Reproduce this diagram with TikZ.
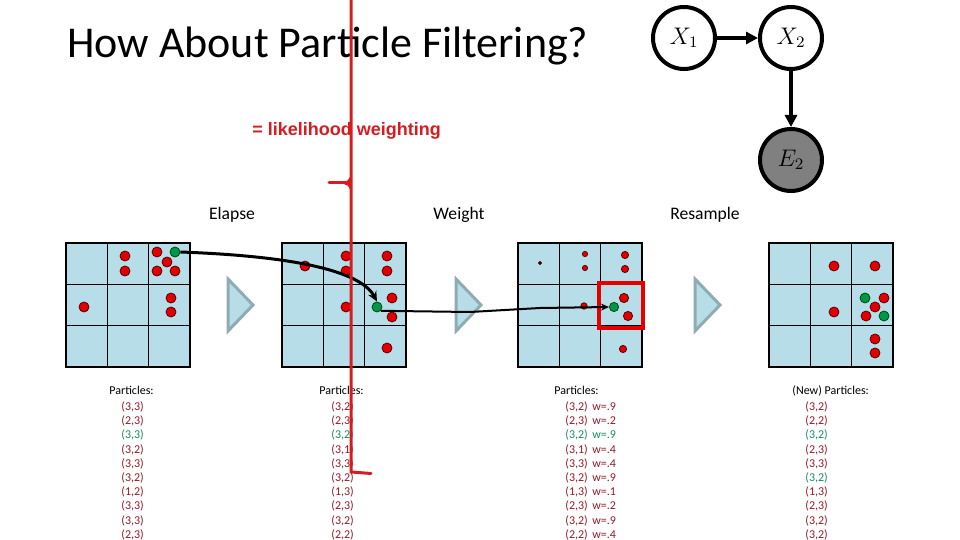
\documentclass[tikz,border=0pt]{standalone}
\usepackage{fontspec}
\setmainfont{Carlito}
\newfontfamily\arialfont{Liberation Sans}
\usetikzlibrary{arrows.meta}
\definecolor{cellblue}{RGB}{183,222,232}
\definecolor{pred}{RGB}{226,0,0}
\definecolor{pgreen}{RGB}{0,150,75}
\definecolor{dotedge}{RGB}{90,0,0}
\definecolor{txtred}{RGB}{150,25,40}
\definecolor{txtgreen}{RGB}{25,140,95}
\definecolor{markred}{RGB}{215,28,32}
\definecolor{trigray}{RGB}{143,172,178}
\definecolor{evgray}{RGB}{128,128,128}
\newcommand\pfgrid[2]{%
  \fill[cellblue] (#1,#2) rectangle ++(124,124);
  \draw[gridline] (#1,#2) rectangle ++(124,124);
  \draw[gridline] (#1+41.33,#2) -- ++(0,124);
  \draw[gridline] (#1+82.67,#2) -- ++(0,124);
  \draw[gridline] (#1,#2+41.33) -- ++(124,0);
  \draw[gridline] (#1,#2+82.67) -- ++(124,0);
}
\newcommand\pftri[1]{%
  \draw[playtri] (#1,279) -- (#1+25,305) -- (#1,331) -- cycle;
}
\begin{document}
\begin{tikzpicture}[x=0.5pt,y=-0.5pt,
  gridline/.style={black,line width=0.7pt},
  playtri/.style={draw=trigray,fill=cellblue,line width=1.5pt,line join=miter},
  rdot/.style={circle,draw=dotedge,line width=0.4pt,fill=pred,inner sep=0pt,minimum size=5pt},
  gdot/.style={circle,draw=black!70!green,line width=0.4pt,fill=pgreen,inner sep=0pt,minimum size=5pt},
  bnvar/.style={circle,draw=black,line width=2pt,minimum size=31pt,inner sep=0pt,font=\fontsize{11.5}{13}\selectfont},
  bnarrow/.style={line width=2pt,-{Triangle[length=6pt,width=6pt]}},
  steplabel/.style={inner sep=0pt,anchor=base,font=\fontsize{8.8}{10}\selectfont},
  listtext/.style={inner sep=0pt,anchor=base west,font=\fontsize{6}{7}\selectfont},
  redmark/.style={draw=markred,line width=1.5pt}
]
\useasboundingbox (0,0) rectangle (960,540);

% title
\node[inner sep=0pt,anchor=base west] (title) at (67,58) {\fontsize{22}{26}\selectfont How About Particle Filtering?};
\node[inner sep=0pt,anchor=base west,text=markred] (lw) at (252,136) {\arialfont\bfseries\fontsize{9}{11}\selectfont = likelihood weighting};

% Bayes net
\node[bnvar] (x1) at (684,38) {$X_1$};
\node[bnvar] (x2) at (791,38) {$X_2$};
\node[bnvar,fill=evgray] (e2) at (791,160) {$E_2$};
\draw[bnarrow] (x1) -- (x2);
\draw[bnarrow] (x2) -- (e2);

% step labels
\node[steplabel] (elapse) at (232,220) {Elapse};
\node[steplabel] (weight) at (459,220) {Weight};
\node[steplabel] (resample) at (705,220) {Resample};

% grids
\pfgrid{66}{243}
\pfgrid{282}{243}
\pfgrid{518}{243}
\pfgrid{769}{243}
\pftri{228}
\pftri{456}
\pftri{695}

% grid 1 particles
\node[rdot] (a1) at (125,256) {};
\node[rdot] (a2) at (125,271) {};
\node[rdot] (a3) at (157,252) {};
\node[rdot] (a4) at (167,262) {};
\node[rdot] (a5) at (157,271) {};
\node[rdot] (a6) at (175,271) {};
\node[gdot] (g1) at (175,252) {};
\node[rdot] (a7) at (171,298) {};
\node[rdot] (a8) at (171,312) {};
\node[rdot] (a9) at (84,307) {};

% grid 2 particles
\node[rdot] (b1) at (305,266) {};
\node[rdot] (b2) at (346,256) {};
\node[rdot] (b3) at (346,271) {};
\node[rdot] (b4) at (387,256) {};
\node[rdot] (b5) at (387,271) {};
\node[rdot] (b6) at (392,298) {};
\node[rdot] (b7) at (392,317) {};
\node[rdot] (b8) at (346,307) {};
\node[gdot] (g2) at (377,307) {};
\node[rdot] (b9) at (387,348) {};

% grid 3 particles (weighted)
\node[rdot,minimum size=1.6pt,fill=black!70!blue] (c1) at (540,263) {};
\node[rdot,minimum size=2.6pt] (c2) at (585,254) {};
\node[rdot,minimum size=2.6pt] (c3) at (585,268) {};
\node[rdot,minimum size=3.6pt] (c4) at (625,255) {};
\node[rdot,minimum size=3.6pt] (c5) at (625,269) {};
\node[rdot,minimum size=4.6pt] (c6) at (624,298) {};
\node[rdot,minimum size=4.6pt] (c7) at (628,316) {};
\node[rdot,minimum size=3.2pt] (c8) at (584,306) {};
\node[gdot,minimum size=4.6pt] (g3) at (614,307) {};
\node[rdot,minimum size=3.6pt] (c9) at (623,349) {};
\draw[draw=red!90!black,line width=2pt] (599,283) rectangle (643,328);

% grid 4 particles (resampled)
\node[rdot] (d1) at (834,266) {};
\node[rdot] (d2) at (875,266) {};
\node[rdot] (d3) at (834,312) {};
\node[gdot] (d4) at (865,298) {};
\node[rdot] (d5) at (884,298) {};
\node[rdot] (d6) at (875,307) {};
\node[rdot] (d7) at (866,316) {};
\node[gdot] (d8) at (884,316) {};
\node[rdot] (d9) at (875,339) {};
\node[rdot] (d10) at (875,353) {};

% tracked particle arrows
\draw[line width=1.5pt,-{Stealth[length=5pt,width=4.5pt]}] (g1.east) .. controls (290,256) and (360,270) .. (g2.north);
\draw[line width=1pt,-{Stealth[length=4pt,width=3.5pt]}] (g2.south east) -- (470,312) -- (540,308) -- (g3.west);

% particle lists
\node[listtext] (h1) at (109,394) {Particles:};
\foreach \a/\b/\c [count=\i from 0] in {3/3/txtred,2/3/txtred,3/3/txtgreen,3/2/txtred,3/3/txtred,3/2/txtred,1/2/txtred,3/3/txtred,3/3/txtred,2/3/txtred}
  \node[listtext,text=\c] (l1-\i) at (121,{410.5+14.2*\i}) {(\a,\b)};

\node[listtext] (h2) at (319,394) {Particles:};
\foreach \a/\b/\c [count=\i from 0] in {3/2/txtred,2/3/txtred,3/2/txtgreen,3/1/txtred,3/3/txtred,3/2/txtred,1/3/txtred,2/3/txtred,3/2/txtred,2/2/txtred}
  \node[listtext,text=\c] (l2-\i) at (331,{410.5+14.2*\i}) {(\a,\b)};

\node[listtext] (h3) at (554,394) {Particles:};
\foreach \a/\b/\w/\c [count=\i from 0] in {3/2/9/txtred,2/3/2/txtred,3/2/9/txtgreen,3/1/4/txtred,3/3/4/txtred,3/2/9/txtred,1/3/1/txtred,2/3/2/txtred,3/2/9/txtred,2/2/4/txtred}{
  \node[listtext,text=\c] (l3-\i) at (565,{410.5+14.2*\i}) {(\a,\b)};
  \node[listtext,text=\c] (w3-\i) at (592,{410.5+14.2*\i}) {w=.\w};
}

\node[listtext] (h4) at (792,394) {(New) Particles:};
\foreach \a/\b/\c [count=\i from 0] in {3/2/txtred,2/2/txtred,3/2/txtgreen,2/3/txtred,3/3/txtred,3/2/txtgreen,1/3/txtred,2/3/txtred,3/2/txtred,3/2/txtred}
  \node[listtext,text=\c] (l4-\i) at (805,{410.5+14.2*\i}) {(\a,\b)};

% red hand-drawn marker
\draw[redmark,line cap=round] (351,0) -- (351,472) -- (371,473.5);
\draw[redmark,line cap=round] (329,183) -- (345,183);
\draw[redmark] (345,183) .. controls (348,183) and (350,181) .. (351,178);
\draw[redmark] (345,183) .. controls (348,183) and (350,185) .. (351,188);
\end{tikzpicture}
\end{document}
